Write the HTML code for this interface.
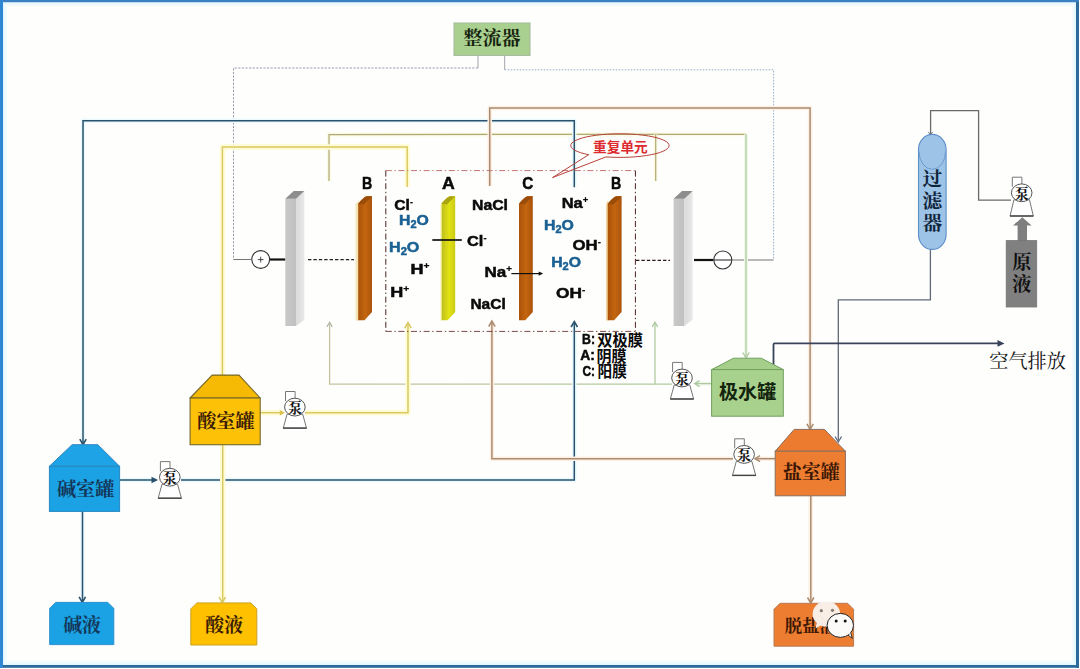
<!DOCTYPE html>
<html lang="zh"><head><meta charset="utf-8"><title>双极膜电渗析工艺流程</title>
<style>
html,body{margin:0;padding:0;background:#fefefd;}
body{width:1080px;height:669px;overflow:hidden;position:relative;font-family:"Liberation Sans",sans-serif;}
svg{position:absolute;left:0;top:0;display:block;}
svg text{font-family:"Liberation Sans",sans-serif;}
svg text.cjkSans{font-family:"Liberation Sans","Noto Sans CJK SC",sans-serif;}
svg text.cjkSerif{font-family:"Liberation Serif","Noto Serif CJK SC",serif;}
</style></head><body>
<svg width="1080" height="669" viewBox="0 0 1080 669">
<defs>

<filter id="noLcd" filterUnits="userSpaceOnUse" x="0" y="0" width="1080" height="669" color-interpolation-filters="sRGB"><feOffset dx="0" dy="0"/></filter>
<linearGradient id="gBrown" x1="0" x2="1" y1="0" y2="0"><stop offset="0" stop-color="#a9520a"/><stop offset="0.5" stop-color="#c4660f"/><stop offset="1" stop-color="#a9530c"/></linearGradient>
<linearGradient id="gYel" x1="0" x2="1" y1="0" y2="0"><stop offset="0" stop-color="#bebe1e"/><stop offset="0.55" stop-color="#e2e212"/><stop offset="1" stop-color="#caca18"/></linearGradient>
<linearGradient id="gGrayF" x1="0" x2="1" y1="0" y2="0"><stop offset="0" stop-color="#c9c9c9"/><stop offset="1" stop-color="#c0c0c0"/></linearGradient>
<linearGradient id="gGrayS" x1="0" x2="1" y1="0" y2="0"><stop offset="0" stop-color="#d9d9d9"/><stop offset="1" stop-color="#e9e9e9"/></linearGradient>
<linearGradient id="gPolar" gradientUnits="userSpaceOnUse" x1="329" x2="672" y1="0" y2="0"><stop offset="0" stop-color="#c6c2a0"/><stop offset="1" stop-color="#b0cba0"/></linearGradient>

</defs>
<rect x="0" y="0" width="1080" height="669" fill="#fefefd"/>
<rect x="4" y="3" width="1071" height="661" fill="none" stroke="#f1fbfd" stroke-width="6"/>
<rect x="3" y="2" width="1073" height="663" fill="none" stroke="#e0f6fd" stroke-width="3"/>
<rect x="0" y="0" width="1080" height="2.2" fill="#3a7fc1"/>
<rect x="0" y="0" width="3" height="669" fill="#2f86d2"/>
<rect x="1076" y="2" width="3" height="666" fill="#2e6a9c"/>
<rect x="3" y="665" width="1076" height="2.8" fill="#2e6a9c"/>
<rect x="1079" y="0" width="1" height="669" fill="#fff"/>
<rect x="0" y="668" width="1080" height="1" fill="#fff"/>
<path d="M478.0 55.5 L478.0 68.0" fill="none" stroke="#a3a3ab" stroke-width="1" />
<path d="M478.0 68.0 L233.5 68.0 L233.5 259.5" fill="none" stroke="#8d93a3" stroke-width="0.9" stroke-dasharray="2.2 1.4" />
<path d="M233.5 259.5 L251.5 259.5" fill="none" stroke="#747474" stroke-width="1" />
<path d="M504.7 55.5 L504.7 69.8" fill="none" stroke="#a3a3ab" stroke-width="1" />
<path d="M504.7 69.8 L773.6 69.8 L773.6 260.0" fill="none" stroke="#8aa6c6" stroke-width="0.9" stroke-dasharray="1.6 1.4" />
<path d="M732.0 260.0 L773.6 260.0" fill="none" stroke="#747474" stroke-width="1" />
<path d="M329.0 181.0 L329.0 134.6 L746.0 134.3" fill="none" stroke="#fafae6" stroke-width="4" stroke-linejoin="round"/>
<path d="M329.0 181.0 L329.0 134.6 L746.0 134.3" fill="none" stroke="#b1a972" stroke-width="1.2" />
<path d="M655.7 134.5 L655.7 181.0" fill="none" stroke="#fafae6" stroke-width="4" stroke-linejoin="round"/>
<path d="M655.7 134.5 L655.7 181.0" fill="none" stroke="#b1a972" stroke-width="1.2" />
<path d="M746.0 134.3 L746.0 357.0" fill="none" stroke="#f1f9ec" stroke-width="4" stroke-linejoin="round"/>
<path d="M746.0 134.3 L746.0 357.0" fill="none" stroke="#adc99f" stroke-width="1.3" />
<path d="M742.8 352.5 L746.0 358.0 L749.2 352.5" fill="none" stroke="#adc99f" stroke-width="1.3" stroke-linejoin="miter"/>
<path d="M329.6 324 V384.2 H672" fill="none" stroke="url(#gPolar)" stroke-width="1.3"/>
<path d="M655.0 324.0 L655.0 384.2" fill="none" stroke="#b0cba0" stroke-width="1.3" />
<path d="M326.9 326.9 L329.6 322.3 L332.3 326.9" fill="none" stroke="#b3b6a6" stroke-width="1.2" stroke-linejoin="miter"/>
<path d="M652.3 326.9 L655.0 322.3 L657.7 326.9" fill="none" stroke="#a9c79c" stroke-width="1.2" stroke-linejoin="miter"/>
<path d="M696.0 383.6 L712.0 383.6" fill="none" stroke="#f1f9ec" stroke-width="4" stroke-linejoin="round"/>
<path d="M696.0 383.6 L712.0 383.6" fill="none" stroke="#adc99f" stroke-width="1.3" />
<path d="M699.6 380.6 L694.6 383.6 L699.6 386.6" fill="none" stroke="#adc99f" stroke-width="1.3" stroke-linejoin="miter"/>
<path d="M574.3 187.2 L574.3 120.8 L83.0 120.8 L83.0 443.5" fill="none" stroke="#e9f9fd" stroke-width="4.5" stroke-linejoin="round"/>
<path d="M574.3 187.2 L574.3 120.8 L83.0 120.8 L83.0 443.5" fill="none" stroke="#2a526c" stroke-width="1.5" />
<path d="M79.8 439.2 L83.0 444.7 L86.2 439.2" fill="none" stroke="#2a526c" stroke-width="1.6" stroke-linejoin="miter"/>
<path d="M119.6 480.0 L156.5 480.0" fill="none" stroke="#e9f9fd" stroke-width="4.5" stroke-linejoin="round"/>
<path d="M119.6 480.0 L156.5 480.0" fill="none" stroke="#2a526c" stroke-width="1.5" />
<polygon points="151.5,476.8 158.0,480.0 151.5,483.2" fill="#2a526c"/>
<path d="M181.0 480.0 L574.3 480.0 L574.3 323.0" fill="none" stroke="#e9f9fd" stroke-width="4.5" stroke-linejoin="round"/>
<path d="M181.0 480.0 L574.3 480.0 L574.3 323.0" fill="none" stroke="#2a526c" stroke-width="1.5" />
<path d="M571.1 327.0 L574.3 321.5 L577.5 327.0" fill="none" stroke="#2a526c" stroke-width="1.6" stroke-linejoin="miter"/>
<path d="M82.5 511.0 L82.5 601.0" fill="none" stroke="#e9f9fd" stroke-width="4.5" stroke-linejoin="round"/>
<path d="M82.5 511.0 L82.5 601.0" fill="none" stroke="#2a526c" stroke-width="1.5" />
<path d="M79.1 596.8 L82.3 602.3 L85.5 596.8" fill="none" stroke="#2a526c" stroke-width="1.6" stroke-linejoin="miter"/>
<path d="M407.2 187.0 L407.2 147.0 L222.4 147.0 L222.4 375.0" fill="none" stroke="#fffcd4" stroke-width="5.5" stroke-linejoin="round"/>
<path d="M407.2 187.0 L407.2 147.0 L222.4 147.0 L222.4 375.0" fill="none" stroke="#d9c862" stroke-width="1.45" />
<path d="M260.2 412.7 L283.0 412.7" fill="none" stroke="#fffcd4" stroke-width="5.5" stroke-linejoin="round"/>
<path d="M260.2 412.7 L283.0 412.7" fill="none" stroke="#d9c862" stroke-width="1.45" />
<polygon points="279.8,410.0 285.0,412.7 279.8,415.4" fill="#dcc050"/>
<path d="M305.0 412.7 L408.0 412.7 L408.0 324.0" fill="none" stroke="#fffcd4" stroke-width="5.5" stroke-linejoin="round"/>
<path d="M305.0 412.7 L408.0 412.7 L408.0 324.0" fill="none" stroke="#d9c862" stroke-width="1.45" />
<path d="M404.8 328.1 L408.0 322.6 L411.2 328.1" fill="none" stroke="#d9c862" stroke-width="1.5" stroke-linejoin="miter"/>
<path d="M222.7 444.7 L222.7 601.5" fill="none" stroke="#fffcd4" stroke-width="5.5" stroke-linejoin="round"/>
<path d="M222.7 444.7 L222.7 601.5" fill="none" stroke="#d9c862" stroke-width="1.45" />
<path d="M219.1 597.1 L222.3 602.6 L225.5 597.1" fill="none" stroke="#d9c862" stroke-width="1.5" stroke-linejoin="miter"/>
<path d="M489.7 186.0 L489.7 107.9 L810.1 107.9 L810.1 428.5" fill="none" stroke="#fdf0e4" stroke-width="4.5" stroke-linejoin="round"/>
<path d="M489.7 186.0 L489.7 107.9 L810.1 107.9 L810.1 428.5" fill="none" stroke="#ab8b70" stroke-width="1.5" />
<path d="M806.9 423.9 L810.1 429.4 L813.3 423.9" fill="none" stroke="#ab8b70" stroke-width="1.5" stroke-linejoin="miter"/>
<path d="M775.0 458.7 L757.0 458.7" fill="none" stroke="#fdf0e4" stroke-width="4.5" stroke-linejoin="round"/>
<path d="M775.0 458.7 L757.0 458.7" fill="none" stroke="#ab8b70" stroke-width="1.5" />
<path d="M760.0 455.7 L755.0 458.7 L760.0 461.7" fill="none" stroke="#ab8b70" stroke-width="1.5" stroke-linejoin="miter"/>
<path d="M733.0 458.7 L491.9 458.7 L491.9 322.5" fill="none" stroke="#fdf0e4" stroke-width="4.5" stroke-linejoin="round"/>
<path d="M733.0 458.7 L491.9 458.7 L491.9 322.5" fill="none" stroke="#ab8b70" stroke-width="1.5" />
<path d="M488.7 326.5 L491.9 321.0 L495.1 326.5" fill="none" stroke="#ab8b70" stroke-width="1.5" stroke-linejoin="miter"/>
<path d="M810.8 495.0 L810.8 602.0" fill="none" stroke="#fdf0e4" stroke-width="4.5" stroke-linejoin="round"/>
<path d="M810.8 495.0 L810.8 602.0" fill="none" stroke="#ab8b70" stroke-width="1.5" />
<path d="M807.5 597.5 L810.7 603.0 L813.9 597.5" fill="none" stroke="#ab8b70" stroke-width="1.5" stroke-linejoin="miter"/>
<path d="M1011.0 200.2 L978.6 200.2 L978.6 110.6 L930.6 110.6 L930.6 134.0" fill="none" stroke="#6a6a6a" stroke-width="1.3" />
<path d="M928.3 131.8 L930.5 135.2 L932.7 131.8" fill="none" stroke="#7a7a7a" stroke-width="1" stroke-linejoin="miter"/>
<path d="M930.4 249.0 L930.4 299.8 L838.3 299.8 L838.3 440.5" fill="none" stroke="#626a78" stroke-width="1.3" />
<path d="M835.1 436.5 L838.3 442.0 L841.5 436.5" fill="none" stroke="#5e6c85" stroke-width="1.3" stroke-linejoin="miter"/>
<path d="M773.5 366 V344.4 Q773.5 343.3 774.6 343.3 H1001" fill="none" stroke="#39435a" stroke-width="1.8"/>
<polygon points="997.5,340.1 1004.5,343.4 997.5,346.7" fill="#39435a"/>
<path d="M385.8 170.6 L635.4 170.6" fill="none" stroke="#c27676" stroke-width="1" stroke-dasharray="6 2.6 1.4 2.6" />
<path d="M385.8 170.6 L385.8 331.4" fill="none" stroke="#4c2222" stroke-width="1" stroke-dasharray="6 2.6 1.4 2.6" />
<path d="M635.4 170.6 L635.4 331.4" fill="none" stroke="#4c2222" stroke-width="1" stroke-dasharray="6 2.6 1.4 2.6" />
<path d="M385.8 331.4 L635.4 331.4" fill="none" stroke="#7a4a4a" stroke-width="1" stroke-dasharray="6 2.6 1.4 2.6" />
<path d="M270.0 259.5 L285.5 259.5" fill="none" stroke="#111" stroke-width="2.2" />
<path d="M308.0 259.6 L354.0 259.6" fill="none" stroke="#222" stroke-width="1.1" stroke-dasharray="3.4 2" />
<path d="M694.0 260.0 L713.5 260.0" fill="none" stroke="#111" stroke-width="2.2" />
<path d="M636.0 260.4 L670.0 260.4" fill="none" stroke="#2a1a1a" stroke-width="1.1" stroke-dasharray="3.4 2" />
<circle cx="260.7" cy="259.5" r="8.9" fill="#fff" stroke="#333" stroke-width="1.1"/>
<path d="M257.9 259.6 H263.5 M260.7 256.8 V262.4" stroke="#333" stroke-width="0.9"/>
<circle cx="722.8" cy="260" r="9" fill="#fff" stroke="#333" stroke-width="1.1"/>
<path d="M714 260 H731.6" stroke="#333" stroke-width="1.1"/>
<polygon points="285.3,198.8 296.1,198.8 296.1,326 285.3,326" fill="url(#gGrayF)"/>
<polygon points="296.1,198.8 304.3,191 304.3,319.8 296.1,326" fill="url(#gGrayS)"/>
<polygon points="285.3,198.8 296.1,198.8 304.3,191 293.7,191" fill="#8d8d8d"/>
<polygon points="673.6,198.8 684.4,198.8 684.4,326 673.6,326" fill="url(#gGrayF)"/>
<polygon points="684.4,198.8 692.6,191 692.6,319.8 684.4,326" fill="url(#gGrayS)"/>
<polygon points="673.6,198.8 684.4,198.8 692.6,191 682.0,191" fill="#8d8d8d"/>
<path d="M355.6 204.5 L358.7 200 V320.4 H355.6 Z" fill="#f3e4b4"/>
<path d="M358.2 203.8 Q363.2 197.2 366.7 196.2 H372.0 V312 L364.5 320.2 H358.2 Z" fill="url(#gBrown)"/>
<path d="M358.2 203.8 Q363.2 197.2 366.7 196.2 H372.0 L363.7 204.5 Z" fill="#9a4c08"/>
<path d="M441.4 203.8 Q446.4 197.2 449.9 196.2 H455.2 V312 L447.7 320.2 H441.4 Z" fill="url(#gYel)"/>
<path d="M441.4 203.8 Q446.4 197.2 449.9 196.2 H455.2 L446.9 204.5 Z" fill="#a9a512"/>
<path d="M519.0 203.8 Q524.0 197.2 527.5 196.2 H532.8 V312 L525.3 320.2 H519.0 Z" fill="url(#gBrown)"/>
<path d="M519.0 203.8 Q524.0 197.2 527.5 196.2 H532.8 L524.5 204.5 Z" fill="#9a4c08"/>
<path d="M606.2 204.5 L608.3 200 V320.4 H606.2 Z" fill="#f0c98a"/>
<path d="M607.8 203.8 Q612.8 197.2 616.3 196.2 H621.6 V312 L614.1 320.2 H607.8 Z" fill="url(#gBrown)"/>
<path d="M607.8 203.8 Q612.8 197.2 616.3 196.2 H621.6 L613.3 204.5 Z" fill="#9a4c08"/>
<path d="M441 204 V320.4" stroke="#f3f39a" stroke-width="1" fill="none"/>
<path d="M432.3 240.0 L461.8 240.0" fill="none" stroke="#111" stroke-width="1.7" />
<path d="M511.4 273.6 L540.0 273.6" fill="none" stroke="#111" stroke-width="1.2" />
<polygon points="538.7,271.4 543.2,273.6 538.7,275.8" fill="#111"/>
<text class="cjkSans" x="597.3" y="345.9" font-size="15.5" font-weight="bold" textLength="45.7" lengthAdjust="spacingAndGlyphs" fill="#0a0a0a">双极膜</text>
<text class="cjkSans" x="596.4" y="361.9" font-size="16.0" font-weight="bold" textLength="30.2" lengthAdjust="spacingAndGlyphs" fill="#0a0a0a">阴膜</text>
<text class="cjkSans" x="597.6" y="377.3" font-size="15.5" font-weight="bold" textLength="29.3" lengthAdjust="spacingAndGlyphs" fill="#0a0a0a">阳膜</text>
<path d="M588.7 154.7 A49.2 11.8 0 1 1 606 156.9 L552.5 177.6 Z" fill="none" stroke="#b8423a" stroke-width="1" stroke-linejoin="round"/>
<text class="cjkSans" x="593.1" y="151.5" font-size="13.9" font-weight="bold" textLength="54.6" lengthAdjust="spacingAndGlyphs" fill="#dc2a2e">重复单元</text>
<rect x="454" y="23" width="76" height="32.4" fill="#a9d08e" stroke="#a3b79a" stroke-width="1"/>
<text class="cjkSerif" x="463.6" y="45.3" font-size="19.2" font-weight="bold" textLength="57.0" lengthAdjust="spacingAndGlyphs" fill="#15230f">整流器</text>
<polygon points="49.4,466.3 72.1,444.7 97.8,444.7 119.6,466.3" fill="#1ea4e6" stroke="#2a86c0" stroke-width="1" stroke-linejoin="round"/>
<rect x="49.4" y="466.3" width="70.2" height="45.1" fill="#1aa2e4" stroke="#2a86c0" stroke-width="1"/>
<text class="cjkSerif" x="56.9" y="495.8" font-size="19.3" font-weight="bold" textLength="57.4" lengthAdjust="spacingAndGlyphs" fill="#143659">碱室罐</text>
<polygon points="190.1,398.0 212.1,375.1 239.0,375.1 260.2,398.0" fill="#f6ba04" stroke="#73672a" stroke-width="1.1" stroke-linejoin="round"/>
<rect x="190.1" y="398.0" width="70.1" height="46.7" fill="#fdc107" stroke="#73672a" stroke-width="1.1"/>
<text class="cjkSerif" x="197.2" y="428.1" font-size="19.4" font-weight="bold" textLength="57.4" lengthAdjust="spacingAndGlyphs" fill="#3a1c05">酸室罐</text>
<polygon points="711.6,369.6 733.5,358.2 761.2,358.2 783.3,369.6" fill="#a5ce8a" stroke="#71a05e" stroke-width="1" stroke-linejoin="round"/>
<rect x="711.6" y="369.6" width="71.7" height="46.6" fill="#a9d18e" stroke="#71a05e" stroke-width="1"/>
<text class="cjkSans" x="719.0" y="399.1" font-size="19.4" font-weight="bold" textLength="57.3" lengthAdjust="spacingAndGlyphs" fill="#13240c">极水罐</text>
<polygon points="775.2,451.2 794.2,429.4 824.4,429.4 845.4,451.2" fill="#ec7b30" stroke="#8a6e5c" stroke-width="1" stroke-linejoin="round"/>
<rect x="775.2" y="451.2" width="70.2" height="44.6" fill="#ed7d31" stroke="#8a6e5c" stroke-width="1"/>
<text class="cjkSerif" x="782.7" y="479.2" font-size="19.3" font-weight="bold" textLength="57.0" lengthAdjust="spacingAndGlyphs" fill="#3b1605">盐室罐</text>
<polygon points="49.7,608.4 55.7,602.4 107.8,602.4 113.8,608.4 113.8,644.6 49.7,644.6" fill="#1aa2e4" stroke="#2a8fd0" stroke-width="1" stroke-linejoin="round"/>
<text class="cjkSerif" x="63.2" y="631.7" font-size="19.2" font-weight="bold" textLength="37.8" lengthAdjust="spacingAndGlyphs" fill="#143659">碱液</text>
<polygon points="190.8,608.9 196.8,602.9 250.8,602.9 256.8,608.9 256.8,645.0 190.8,645.0" fill="#ffc000" stroke="#c9a227" stroke-width="1" stroke-linejoin="round"/>
<text class="cjkSerif" x="205.3" y="632.2" font-size="19.2" font-weight="bold" textLength="37.7" lengthAdjust="spacingAndGlyphs" fill="#3a1c05">酸液</text>
<polygon points="774.0,609.3 780.0,603.3 847.6,603.3 853.6,609.3 853.6,646.2 774.0,646.2" fill="#ed7d31" stroke="#b77b55" stroke-width="1" stroke-linejoin="round"/>
<text class="cjkSerif" x="784.8" y="632.3" font-size="17.5" font-weight="bold" textLength="52.0" lengthAdjust="spacingAndGlyphs" fill="#3b1605">脱盐液</text>
<path d="M160.4 471.2 V461.6 H170.0 V469.2" fill="#fff" stroke="#777" stroke-width="1"/>
<path d="M162.0 484.2 L158.2 498.2 L181.4 498.2 L177.6 484.2 Z" fill="#fff" stroke="#777" stroke-width="1"/>
<path d="M158.0 498.2 H181.6" stroke="#444" stroke-width="1.4"/>
<ellipse cx="169.8" cy="477.2" rx="10.3" ry="8.9" fill="#fff" stroke="#555" stroke-width="1"/>
<text class="cjkSerif" x="162.8" y="483.0" font-size="14.9" font-weight="bold" textLength="14.0" lengthAdjust="spacingAndGlyphs" fill="#111">泵</text>
<path d="M285.5 401.1 V391.5 H295.1 V399.1" fill="#fff" stroke="#777" stroke-width="1"/>
<path d="M287.1 414.1 L283.3 428.1 L306.5 428.1 L302.7 414.1 Z" fill="#fff" stroke="#777" stroke-width="1"/>
<path d="M283.1 428.1 H306.7" stroke="#444" stroke-width="1.4"/>
<ellipse cx="294.9" cy="407.1" rx="10.3" ry="8.9" fill="#fff" stroke="#555" stroke-width="1"/>
<text class="cjkSerif" x="287.9" y="412.9" font-size="14.9" font-weight="bold" textLength="14.0" lengthAdjust="spacingAndGlyphs" fill="#111">泵</text>
<path d="M672.6 372.0 V362.4 H682.2 V370.0" fill="#fff" stroke="#777" stroke-width="1"/>
<path d="M674.2 385.0 L670.4 399.0 L693.6 399.0 L689.8 385.0 Z" fill="#fff" stroke="#777" stroke-width="1"/>
<path d="M670.2 399.0 H693.8" stroke="#444" stroke-width="1.4"/>
<ellipse cx="682.0" cy="378.0" rx="10.3" ry="8.9" fill="#fff" stroke="#555" stroke-width="1"/>
<text class="cjkSerif" x="675.0" y="383.8" font-size="14.9" font-weight="bold" textLength="14.0" lengthAdjust="spacingAndGlyphs" fill="#111">泵</text>
<path d="M734.7 448.4 V438.8 H744.3 V446.4" fill="#fff" stroke="#777" stroke-width="1"/>
<path d="M736.3 461.4 L732.5 475.4 L755.7 475.4 L751.9 461.4 Z" fill="#fff" stroke="#777" stroke-width="1"/>
<path d="M732.3 475.4 H755.9" stroke="#444" stroke-width="1.4"/>
<ellipse cx="744.1" cy="454.4" rx="10.3" ry="8.9" fill="#fff" stroke="#555" stroke-width="1"/>
<text class="cjkSerif" x="737.1" y="460.2" font-size="14.9" font-weight="bold" textLength="14.0" lengthAdjust="spacingAndGlyphs" fill="#111">泵</text>
<path d="M1012.3 186.8 V177.2 H1021.9 V184.8" fill="#fff" stroke="#777" stroke-width="1"/>
<path d="M1013.9 199.8 L1010.1 216.0 L1033.3 216.0 L1029.5 199.8 Z" fill="#fff" stroke="#777" stroke-width="1"/>
<path d="M1009.9 216.0 H1033.5" stroke="#444" stroke-width="1.4"/>
<ellipse cx="1021.7" cy="192.8" rx="10.3" ry="8.9" fill="#fff" stroke="#555" stroke-width="1"/>
<text class="cjkSerif" x="1014.7" y="198.6" font-size="14.9" font-weight="bold" textLength="14.0" lengthAdjust="spacingAndGlyphs" fill="#111">泵</text>
<rect x="918.5" y="134.4" width="27.6" height="115" rx="13.8" ry="15" fill="#9dc3e6" stroke="#5d8fc9" stroke-width="1.1"/>
<path d="M919 151.5 A13.3 17.8 0 0 0 945.6 151.5" fill="none" stroke="#6d9ad0" stroke-width="1"/>
<text class="cjkSerif" x="922.4" y="185.8" font-size="19.8" font-weight="bold" fill="#10243a">过</text>
<text class="cjkSerif" x="922.4" y="207.7" font-size="19.8" font-weight="bold" fill="#10243a">滤</text>
<text class="cjkSerif" x="922.4" y="229.7" font-size="19.8" font-weight="bold" fill="#10243a">器</text>
<polygon points="1022.3,217.2 1031.6,225.6 1027,225.6 1027,241 1017.6,241 1017.6,225.6 1013,225.6" fill="#7f7f7f"/>
<rect x="1006.2" y="240.6" width="30.5" height="66.4" fill="#808080" stroke="#767676" stroke-width="0.8"/>
<text class="cjkSerif" x="1012.2" y="268.9" font-size="19.2" font-weight="bold" fill="#101010">原</text>
<text class="cjkSerif" x="1012.2" y="290.9" font-size="19.2" font-weight="bold" fill="#101010">液</text>
<text class="cjkSerif" x="989.2" y="367.9" font-size="19.5" textLength="76.8" lengthAdjust="spacingAndGlyphs" fill="#111">空气排放</text>
<g><ellipse cx="826.4" cy="614" rx="13.8" ry="12.7" fill="#f8f2ec" opacity="0.97"/><path d="M817 622 L815.5 628.5 L822 624.5 Z" fill="#f6efe8"/><circle cx="821.3" cy="610.7" r="1.6" fill="#8a7a70"/><circle cx="832.5" cy="610.3" r="1.6" fill="#8a7a70"/><path d="M847.5 634.5 L852.3 638.4 L850.6 632.2 Z" fill="#fbfaf8" stroke="#222" stroke-width="0.9" stroke-linejoin="round"/><ellipse cx="840.3" cy="625.4" rx="13.2" ry="12" fill="#fbfaf8" stroke="#222" stroke-width="1"/><path d="M846.9 633.9 L850.2 632.4" stroke="#fbfaf8" stroke-width="1.6"/><circle cx="836.2" cy="621.1" r="1.5" fill="#111"/><circle cx="845.2" cy="621.1" r="1.5" fill="#111"/></g>
<g filter="url(#noLcd)">
<text x="361.9" y="188.7" font-size="17.2" font-weight="bold" fill="#0a0a0a" stroke="#0a0a0a" stroke-width="0.5" text-anchor="start" textLength="10.3" lengthAdjust="spacingAndGlyphs">B</text>
<text x="442.0" y="188.5" font-size="17.2" font-weight="bold" fill="#0a0a0a" stroke="#0a0a0a" stroke-width="0.5" text-anchor="start" textLength="12.8" lengthAdjust="spacingAndGlyphs">A</text>
<text x="522.2" y="188.5" font-size="17.2" font-weight="bold" fill="#0a0a0a" stroke="#0a0a0a" stroke-width="0.5" text-anchor="start" textLength="11.0" lengthAdjust="spacingAndGlyphs">C</text>
<text x="611.0" y="188.5" font-size="17.2" font-weight="bold" fill="#0a0a0a" stroke="#0a0a0a" stroke-width="0.5" text-anchor="start" textLength="10.3" lengthAdjust="spacingAndGlyphs">B</text>
<text x="394.3" y="210.1" font-size="14.4" font-weight="bold" fill="#0a0a0a" stroke="#0a0a0a" stroke-width="0.5" text-anchor="start" textLength="18.6" lengthAdjust="spacingAndGlyphs">Cl<tspan dy="-5.0" font-size="8.2" stroke-width="0.2">-</tspan></text>
<text x="399.0" y="225.0" font-size="14.4" font-weight="bold" fill="#1a6092" stroke="#1a6092" stroke-width="0.5" text-anchor="start" textLength="29.8" lengthAdjust="spacingAndGlyphs">H<tspan dy="3.2" font-size="10">2</tspan><tspan dy="-3.2">O</tspan></text>
<text x="389.0" y="251.6" font-size="14.4" font-weight="bold" fill="#1a6092" stroke="#1a6092" stroke-width="0.5" text-anchor="start" textLength="30.4" lengthAdjust="spacingAndGlyphs">H<tspan dy="3.2" font-size="10">2</tspan><tspan dy="-3.2">O</tspan></text>
<text x="410.5" y="274.4" font-size="14.4" font-weight="bold" fill="#0a0a0a" stroke="#0a0a0a" stroke-width="0.5" text-anchor="start" textLength="19.1" lengthAdjust="spacingAndGlyphs">H<tspan dy="-5.0" font-size="8.2" stroke-width="0.2">+</tspan></text>
<text x="390.2" y="297.2" font-size="14.4" font-weight="bold" fill="#0a0a0a" stroke="#0a0a0a" stroke-width="0.5" text-anchor="start" textLength="19.1" lengthAdjust="spacingAndGlyphs">H<tspan dy="-5.0" font-size="8.2" stroke-width="0.2">+</tspan></text>
<text x="472.1" y="209.9" font-size="14.4" font-weight="bold" fill="#0a0a0a" stroke="#0a0a0a" stroke-width="0.5" text-anchor="start" textLength="35.9" lengthAdjust="spacingAndGlyphs">NaCl</text>
<text x="467.1" y="246.4" font-size="14.4" font-weight="bold" fill="#0a0a0a" stroke="#0a0a0a" stroke-width="0.5" text-anchor="start" textLength="19.4" lengthAdjust="spacingAndGlyphs">Cl<tspan dy="-5.0" font-size="8.2" stroke-width="0.2">-</tspan></text>
<text x="484.4" y="276.8" font-size="14.4" font-weight="bold" fill="#0a0a0a" stroke="#0a0a0a" stroke-width="0.5" text-anchor="start" textLength="27.5" lengthAdjust="spacingAndGlyphs">Na<tspan dy="-5.0" font-size="8.2" stroke-width="0.2">+</tspan></text>
<text x="470.4" y="308.8" font-size="14.4" font-weight="bold" fill="#0a0a0a" stroke="#0a0a0a" stroke-width="0.5" text-anchor="start" textLength="35.3" lengthAdjust="spacingAndGlyphs">NaCl</text>
<text x="561.7" y="208.3" font-size="14.4" font-weight="bold" fill="#0a0a0a" stroke="#0a0a0a" stroke-width="0.5" text-anchor="start" textLength="26.6" lengthAdjust="spacingAndGlyphs">Na<tspan dy="-5.0" font-size="8.2" stroke-width="0.2">+</tspan></text>
<text x="544.0" y="230.0" font-size="14.4" font-weight="bold" fill="#1a6092" stroke="#1a6092" stroke-width="0.5" text-anchor="start" textLength="29.9" lengthAdjust="spacingAndGlyphs">H<tspan dy="3.2" font-size="10">2</tspan><tspan dy="-3.2">O</tspan></text>
<text x="572.5" y="250.0" font-size="14.4" font-weight="bold" fill="#0a0a0a" stroke="#0a0a0a" stroke-width="0.5" text-anchor="start" textLength="28.4" lengthAdjust="spacingAndGlyphs">OH<tspan dy="-5.0" font-size="8.2" stroke-width="0.2">-</tspan></text>
<text x="551.2" y="267.0" font-size="14.4" font-weight="bold" fill="#1a6092" stroke="#1a6092" stroke-width="0.5" text-anchor="start" textLength="29.8" lengthAdjust="spacingAndGlyphs">H<tspan dy="3.2" font-size="10">2</tspan><tspan dy="-3.2">O</tspan></text>
<text x="556.0" y="298.3" font-size="14.4" font-weight="bold" fill="#0a0a0a" stroke="#0a0a0a" stroke-width="0.5" text-anchor="start" textLength="29.2" lengthAdjust="spacingAndGlyphs">OH<tspan dy="-5.0" font-size="8.2" stroke-width="0.2">-</tspan></text>
<text x="582.1" y="344.4" font-size="13.8" font-weight="bold" fill="#0a0a0a" stroke="#0a0a0a" stroke-width="0.5" text-anchor="start" textLength="13.0" lengthAdjust="spacingAndGlyphs">B:</text>
<text x="580.3" y="360.4" font-size="13.8" font-weight="bold" fill="#0a0a0a" stroke="#0a0a0a" stroke-width="0.5" text-anchor="start" textLength="14.7" lengthAdjust="spacingAndGlyphs">A:</text>
<text x="582.5" y="375.7" font-size="13.8" font-weight="bold" fill="#0a0a0a" stroke="#0a0a0a" stroke-width="0.5" text-anchor="start" textLength="12.5" lengthAdjust="spacingAndGlyphs">C:</text>
</g>
</svg>
</body></html>
